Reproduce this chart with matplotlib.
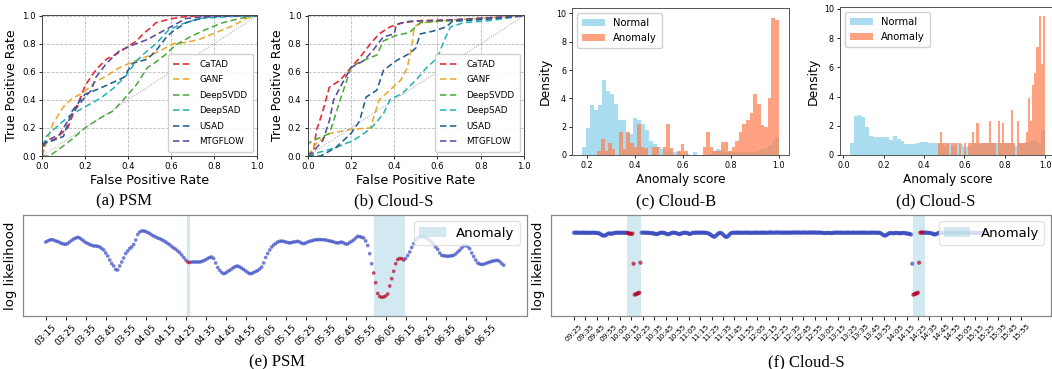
import numpy as np
import matplotlib
matplotlib.use("Agg")
import matplotlib.pyplot as plt

# ---------------- ROC data (PSM) ----------------
psm_catad_fpr = [0, 0.005, 0.02, 0.06, 0.09, 0.12, 0.15, 0.18, 0.2, 0.23, 0.26, 0.3, 0.35, 0.39, 0.44, 0.47, 0.51, 0.53, 0.59, 0.65, 0.73, 1.0]
psm_catad_tpr = [0, 0.05, 0.1, 0.12, 0.16, 0.2, 0.32, 0.42, 0.5, 0.57, 0.63, 0.69, 0.73, 0.77, 0.82, 0.87, 0.92, 0.95, 0.975, 0.99, 1.0, 1.0]
psm_ganf_fpr = [0, 0.02, 0.05, 0.1, 0.14, 0.19, 0.25, 0.3, 0.36, 0.42, 0.49, 0.55, 0.61, 0.67, 0.73, 0.81, 0.89, 0.95, 1.0]
psm_ganf_tpr = [0, 0.09, 0.23, 0.35, 0.41, 0.45, 0.53, 0.57, 0.63, 0.67, 0.71, 0.75, 0.8, 0.81, 0.83, 0.88, 0.93, 0.98, 1.0]
psm_svdd_fpr = [0, 0.035, 0.08, 0.14, 0.2, 0.27, 0.33, 0.39, 0.44, 0.49, 0.53, 0.58, 0.62, 0.69, 0.76, 0.84, 0.92, 1.0]
psm_svdd_tpr = [0, 0.0, 0.05, 0.12, 0.2, 0.27, 0.32, 0.42, 0.51, 0.63, 0.67, 0.73, 0.79, 0.85, 0.9, 0.95, 0.98, 1.0]
psm_sad_fpr = [0, 0, 0.02, 0.07, 0.13, 0.2, 0.27, 0.33, 0.39, 0.44, 0.49, 0.53, 0.59, 0.65, 0.73, 0.89, 1.0]
psm_sad_tpr = [0, 0.06, 0.14, 0.21, 0.29, 0.35, 0.41, 0.48, 0.57, 0.68, 0.75, 0.8, 0.9, 0.94, 0.98, 0.995, 1.0]
psm_usad_fpr = [0, 0, 0.01, 0.05, 0.1, 0.14, 0.2, 0.25, 0.31, 0.38, 0.42, 0.49, 0.53, 0.58, 0.61, 0.67, 0.76, 0.89, 1.0]
psm_usad_tpr = [0, 0.02, 0.09, 0.11, 0.14, 0.32, 0.44, 0.47, 0.51, 0.56, 0.66, 0.69, 0.75, 0.85, 0.89, 0.95, 0.99, 1.0, 1.0]
psm_mtg_fpr = [0, 0, 0.02, 0.08, 0.14, 0.2, 0.23, 0.25, 0.3, 0.36, 0.42, 0.49, 0.55, 0.61, 0.67, 0.76, 1.0]
psm_mtg_tpr = [0, 0.05, 0.11, 0.15, 0.3, 0.42, 0.47, 0.56, 0.66, 0.75, 0.79, 0.83, 0.88, 0.93, 0.98, 0.995, 1.0]

# ---------------- ROC data (Cloud-S) ----------------
cs_catad_fpr = [0, 0.026, 0.04, 0.07, 0.1, 0.15, 0.2, 0.24, 0.29, 0.33, 0.38, 0.44, 0.52, 0.67, 0.83, 1.0]
cs_catad_tpr = [0, 0.02, 0.18, 0.32, 0.49, 0.54, 0.63, 0.7, 0.8, 0.87, 0.92, 0.95, 0.965, 0.97, 0.985, 1.0]
cs_ganf_fpr = [0, 0.04, 0.1, 0.2, 0.29, 0.31, 0.33, 0.38, 0.43, 0.46, 0.48, 0.49, 0.5, 0.53, 0.67, 1.0]
cs_ganf_tpr = [0, 0.09, 0.16, 0.19, 0.2, 0.3, 0.4, 0.47, 0.54, 0.63, 0.77, 0.89, 0.93, 0.95, 0.97, 1.0]
cs_svdd_fpr = [0, 0.003, 0.04, 0.1, 0.12, 0.15, 0.17, 0.2, 0.24, 0.32, 0.35, 0.41, 0.47, 0.52, 0.6, 0.75, 1.0]
cs_svdd_tpr = [0, 0.09, 0.12, 0.16, 0.25, 0.4, 0.49, 0.63, 0.67, 0.72, 0.82, 0.86, 0.88, 0.95, 0.96, 0.97, 1.0]
cs_sad_fpr = [0, 0.04, 0.13, 0.21, 0.26, 0.3, 0.35, 0.38, 0.44, 0.5, 0.55, 0.6, 0.63, 0.66, 0.72, 0.84, 1.0]
cs_sad_tpr = [0, 0.02, 0.06, 0.11, 0.16, 0.21, 0.3, 0.4, 0.45, 0.54, 0.63, 0.7, 0.82, 0.92, 0.95, 0.965, 1.0]
cs_usad_fpr = [0, 0.06, 0.13, 0.2, 0.24, 0.27, 0.32, 0.35, 0.41, 0.47, 0.5, 0.52, 0.58, 0.64, 0.67, 0.83, 1.0]
cs_usad_tpr = [0, 0, 0.06, 0.16, 0.25, 0.42, 0.47, 0.61, 0.68, 0.73, 0.77, 0.87, 0.89, 0.92, 0.96, 0.975, 1.0]
cs_mtg_fpr = [0, 0.03, 0.07, 0.1, 0.12, 0.15, 0.2, 0.26, 0.3, 0.35, 0.4, 0.41, 0.47, 0.67, 1.0]
cs_mtg_tpr = [0, 0.04, 0.11, 0.25, 0.4, 0.49, 0.63, 0.68, 0.75, 0.85, 0.87, 0.94, 0.96, 0.97, 1.0]

methods = ["CaTAD", "GANF", "DeepSVDD", "DeepSAD", "USAD", "MTGFLOW"]

# ---------------- Histogram data ----------------
cb_normal_range = (0.179, 1.003)
cb_normal_density = [0.6, 1.9, 3.5, 3.15, 3.5, 5.3, 4.5, 4.3, 3.6, 2.45,
                     2.45, 1.55, 1.5, 2.6, 2.45, 2.2, 1.75, 1.0, 0.75, 0.55,
                     0.45, 0.2, 0.25, 0.2, 0.2, 0.1, 0.05, 0.0, 0.2, 0.0,
                     0.0, 0.0, 0.1, 0.25, 0.4, 0.35, 0.2, 0.2, 0.2, 0.2,
                     0.2, 0.2, 0.2, 0.2, 0.3, 0.4, 0.5, 0.7, 1.0, 1.3]
cb_anomaly_range = (0.242, 1.0)
cb_anomaly_density = [0.3, 1.1, 0.3, 0.85, 0.45, 0.0, 1.65, 0.45, 1.65, 0.85,
                      0.55, 2.2, 0.55, 0.5, 0.0, 0.55, 0.55, 0.0, 0.55, 2.2,
                      0.5, 0.0, 0.25, 0.8, 0.25, 0.0, 0.0, 0.0, 0.0, 0.55,
                      1.65, 0.55, 0.25, 0.25, 0.95, 0.95, 0.25, 0.55, 1.0, 1.6,
                      2.2, 2.5, 3.0, 4.3, 3.6, 2.1, 2.0, 4.0, 9.7, 9.5]
cs_normal_range = (0.032, 1.0)
cs_normal_density = [0.8, 2.7, 2.75, 2.6, 1.9, 1.3, 1.25, 1.25, 1.25, 1.2,
                     1.05, 1.3, 1.1, 0.95, 0.75, 0.75, 0.75, 0.8, 0.9, 0.9,
                     0.85, 0.8, 0.8, 0.75, 0.6, 0.85, 0.6, 0.85, 0.75, 0.55,
                     0.6, 0.85, 0.75, 0.75, 0.8, 0.8, 0.85, 0.8, 0.8, 0.8,
                     0.8, 0.8, 0.6, 0.8, 0.85, 0.9, 0.95, 1.0, 0.8, 1.7]
cs_anomaly_range = (0.469, 1.0)
cs_anomaly_density = [0.8, 1.6, 0.8, 0.8, 0.8, 0.0, 0.8, 0.8, 0.8, 0.0,
                      0.8, 0.0, 0.8, 0.0, 0.8, 0.8, 1.6, 0.8, 2.2, 0.8,
                      0.8, 0.8, 0.8, 0.8, 2.3, 0.8, 0.8, 0.0, 2.3, 0.8,
                      2.2, 0.8, 0.8, 0.8, 3.1, 0.8, 0.0, 2.3, 0.8, 0.8,
                      0.8, 1.6, 3.9, 2.3, 4.8, 5.6, 7.4, 9.5, 6.2, 9.5]

# ---------------- Time series (PSM) ----------------
psm_start = "03:15"
psm_loglik = [
    74, 75, 76, 76.3, 76, 75, 74.5, 73.5, 72.5, 72,
    71.7, 72.5, 74, 75.7, 77, 78, 78.7, 78, 76.5, 75,
    73.5, 72.5, 71.5, 70.7, 70, 70, 69.7, 69, 67.5, 66,
    63, 60, 56, 52.5, 50, 46.5, 46, 50, 54, 58,
    62.5, 65, 67.5, 69, 71.5, 76, 81.5, 84, 85, 85,
    84.5, 83.5, 82.5, 81, 80, 79, 78, 77.3, 76.3, 75.2,
    74, 72.5, 71.3, 69.5, 68, 66.8, 65, 63.3, 61, 58.5,
    56, 54, 53.5, 54, 54, 54, 54, 54, 54.5, 55.3,
    56.3, 57.5, 58.5, 59, 57.5, 53, 48.5, 45.7, 43.5, 42.3,
    43, 44.5, 45.7, 47, 48.5, 49.5, 50, 49, 47.8, 46.5,
    45, 43.5, 42.3, 42.5, 43.5, 44.5, 45.5, 47, 49, 53,
    58.5, 62.5, 66, 69, 71, 72.5, 74, 74.7, 75, 74.5,
    74, 73.5, 73, 73.5, 74, 74.3, 74.7, 74, 72.8, 72.3,
    73, 74, 74.7, 75.2, 75.8, 76.3, 76.3, 76.5, 76.3, 76.3,
    76, 75.5, 75, 74.7, 74, 73.3, 73, 73.5, 74, 73,
    72, 72, 73.5, 74.7, 76, 78, 79.7, 79.3, 78.7, 78,
    75, 70.5, 62.3, 52.3, 43, 33.3, 22.5, 19.5, 18.7, 19,
    20, 22, 30, 37.3, 44.7, 52.3, 56.5, 57.5, 57.3, 56,
    57.5, 60.5, 64, 68.5, 72.3, 76, 78, 79, 79.2, 79,
    78.5, 77.3, 75.5, 73.5, 71.5, 69, 66.7, 63, 60.7, 60.2,
    60, 59.7, 60, 60.2, 60.7, 62, 64, 65.7, 68, 70,
    70.7, 69.5, 67.3, 63, 59.5, 56, 53, 52, 51.5, 51.8,
    52.5, 53.3, 54, 54.6, 55.1, 55.5, 55.7, 54.5, 52.5, 50.7]
psm_anomalies = [(70.8, 72.2), (164, 179.6)]
psm_ticklabels = ["03:15", "03:25", "03:35", "03:45", "03:55", "04:05", "04:15", "04:25",
                  "04:35", "04:45", "04:55", "05:05", "05:15", "05:25", "05:35", "05:45",
                  "05:55", "06:05", "06:15", "06:25", "06:35", "06:45", "06:55"]

# ---------------- Time series (Cloud-S) ----------------
cloud_start = "09:25"
cloud_loglik = [
    83.3, 83.3, 83.4, 83.4, 83.3, 83.2, 83.3, 83.3, 83.4, 83.3,
    83.2, 83.3, 83.3, 83.2, 83.1, 83.2, 83.3, 83.3, 83.2, 83.1,
    83.0, 83.0, 82.6, 82.0, 81.2, 80.6, 80.3, 80.4, 81.0, 81.8,
    82.5, 82.6, 82.3, 82.2, 82.6, 83.0, 83.2, 83.3, 83.3, 83.2,
    83.3, 83.3, 83.4, 83.3, 83.2, 83.3, 83.3, 83.0, 82.6, 82.3,
    82.2, 82.4, 52.3, 21.3, 21.8, 22.3, 22.8, 23.3, 53.3, 83.3,
    83.4, 83.3, 83.3, 83.2, 83.3, 83.2, 83.0, 82.9, 82.8, 82.7,
    82.5, 82.0, 81.8, 82.0, 82.6, 83.1, 83.3, 83.3, 83.2, 83.0,
    82.5, 82.0, 81.7, 81.9, 82.4, 83.0, 83.3, 83.3, 83.2, 83.0,
    82.6, 82.0, 81.8, 82.1, 82.7, 83.1, 83.3, 83.3, 83.2, 82.9,
    82.4, 82.0, 82.3, 82.9, 83.2, 83.3, 83.3, 83.4, 83.3, 83.3,
    83.4, 83.3, 83.3, 83.4, 83.3, 83.2, 83.0, 82.7, 82.2, 81.5,
    80.6, 79.8, 79.3, 79.5, 80.4, 81.6, 82.6, 83.0, 83.1, 82.6,
    81.5, 80.3, 79.4, 79.1, 79.5, 80.6, 82.0, 82.9, 83.2, 83.3,
    83.3, 83.2, 83.3, 83.4, 83.4, 83.3, 83.3, 83.2, 83.3, 83.3,
    83.4, 83.4, 83.3, 83.3, 83.2, 83.2, 83.3, 83.3, 83.4, 83.4,
    83.3, 83.3, 83.2, 83.3, 83.4, 83.4, 83.3, 83.3, 83.2, 83.3,
    83.4, 83.5, 83.5, 83.4, 83.3, 83.3, 83.4, 83.5, 83.5, 83.4,
    83.3, 83.3, 83.4, 83.4, 83.3, 83.3, 83.4, 83.4, 83.3, 83.3,
    83.4, 83.5, 83.5, 83.4, 83.4, 83.5, 83.5, 83.4, 83.3, 83.4,
    83.5, 83.5, 83.4, 83.3, 83.4, 83.5, 83.5, 83.4, 83.4, 83.5,
    83.5, 83.4, 83.3, 83.3, 83.4, 83.4, 83.3, 83.1, 83.0, 82.9,
    83.0, 83.1, 83.2, 83.0, 82.9, 83.0, 83.2, 83.3, 83.4, 83.4,
    83.3, 83.3, 83.4, 83.4, 83.3, 83.2, 83.3, 83.3, 83.4, 83.4,
    83.3, 83.2, 83.3, 83.4, 83.4, 83.3, 83.3, 83.2, 83.3, 83.4,
    83.4, 83.3, 83.3, 83.4, 83.4, 83.3, 83.2, 83.2, 83.3, 83.3,
    83.4, 83.3, 83.3, 83.3, 83.2, 83.3, 83.3, 83.0, 82.4, 81.6,
    80.8, 80.4, 80.6, 81.3, 82.2, 82.8, 83.0, 82.9, 82.7, 82.8,
    83.0, 83.1, 83.0, 82.8, 82.7, 82.8, 83.0, 83.1, 83.0, 82.8,
    82.6, 82.4, 82.2, 81.9, 81.5, 52.3, 21.3, 21.8, 22.3, 22.8,
    23.3, 53.3, 83.3, 83.5, 83.5, 83.3, 83.3, 83.4, 83.3, 83.1,
    83.0, 82.9, 82.6, 82.1, 81.6, 81.5, 81.9, 82.6, 83.1, 83.3,
    83.3, 83.2, 83.1, 82.8, 82.6, 82.7, 83.0, 83.2, 83.3, 83.2,
    82.9, 82.6, 82.5, 82.7, 83.0, 83.2, 83.3, 83.2, 83.0, 82.8,
    82.7, 82.9, 83.1, 83.3, 83.3, 83.2, 83.1, 83.2, 83.3, 83.3,
    83.3, 83.2, 83.1, 83.0, 82.9, 83.0, 83.2, 83.3, 83.3, 83.2,
    83.1]
cloud_anomalies = [(46.5, 58.5), (295.8, 305.7)]
cloud_ticklabels = ["09:25", "09:35", "09:45", "09:55", "10:05", "10:15", "10:25", "10:35",
                    "10:45", "10:55", "11:05", "11:15", "11:25", "11:35", "11:45", "11:55",
                    "12:05", "12:15", "12:25", "12:35", "12:45", "12:55", "13:05", "13:15",
                    "13:25", "13:35", "13:45", "13:55", "14:05", "14:15", "14:25", "14:35",
                    "14:45", "14:55", "15:05", "15:15", "15:25", "15:35", "15:45", "15:55"]

# ---------------- figure ----------------
W, H = 1052, 369
fig = plt.figure(figsize=(W / 100, H / 100), dpi=100)
plt.rcParams['font.family'] = ['DejaVu Sans']


def rect(l, r, t, b):
    return [l / W, 1 - b / H, (r - l) / W, (b - t) / H]


roc_colors = ["#e6262f", "#e8aa2e", "#4bab3d", "#27b4b4", "#1f5f8c", "#5a4a9e"]


def roc_panel(ax, curves):
    for (fpr, tpr), name, c in zip(curves, methods, roc_colors):
        ax.plot(fpr, tpr, ls=(0, (4, 2.2)), color=c, lw=1.15, label=name)
    ax.plot([0, 1], [0, 1], ls=':', color='#888888', lw=0.6)
    ax.set_xlim(0, 1)
    ax.set_ylim(0, 1.005)
    ax.set_xticks([0, 0.2, 0.4, 0.6, 0.8, 1.0])
    ax.set_yticks([0, 0.2, 0.4, 0.6, 0.8, 1.0])
    ax.grid(True, ls='--', color='#bbbbbb', lw=0.6)
    ax.tick_params(labelsize=6.2, length=2.5, width=0.6, pad=2)
    ax.set_xlabel("False Positive Rate", fontsize=9.2, labelpad=2)
    ax.set_ylabel("True Positive Rate", fontsize=9.0, labelpad=3)
    for s in ax.spines.values():
        s.set_color('#444444')
        s.set_linewidth(0.7)
    ax.legend(loc='lower right', fontsize=6.3, labelspacing=0.75, handlelength=2.2,
              borderpad=0.6, framealpha=0.9, edgecolor='#cccccc')


ax_a = fig.add_axes(rect(42, 257, 15, 156))
roc_panel(ax_a, [(psm_catad_fpr, psm_catad_tpr), (psm_ganf_fpr, psm_ganf_tpr),
                 (psm_svdd_fpr, psm_svdd_tpr), (psm_sad_fpr, psm_sad_tpr),
                 (psm_usad_fpr, psm_usad_tpr), (psm_mtg_fpr, psm_mtg_tpr)])
ax_b = fig.add_axes(rect(307.7, 524, 15, 156))
roc_panel(ax_b, [(cs_catad_fpr, cs_catad_tpr), (cs_ganf_fpr, cs_ganf_tpr),
                 (cs_svdd_fpr, cs_svdd_tpr), (cs_sad_fpr, cs_sad_tpr),
                 (cs_usad_fpr, cs_usad_tpr), (cs_mtg_fpr, cs_mtg_tpr)])


def hist_panel(ax, nrange, ndens, arange, adens, ytop):
    ne = np.linspace(nrange[0], nrange[1], len(ndens) + 1)
    ae = np.linspace(arange[0], arange[1], len(adens) + 1)
    ax.bar(ne[:-1], ndens, width=np.diff(ne), align='edge', color='skyblue',
           alpha=0.7, linewidth=0, label='Normal')
    ax.bar(ae[:-1], adens, width=np.diff(ae), align='edge', color='coral',
           alpha=0.72, linewidth=0, label='Anomaly')
    ax.set_ylim(0, ytop)
    ax.set_yticks([0, 2, 4, 6, 8, 10])
    ax.tick_params(labelsize=5.8, length=2.5, width=0.6, pad=2)
    ax.set_xlabel("Anomaly score", fontsize=8.7, labelpad=2)
    ax.set_ylabel("Density", fontsize=8.9, labelpad=3)
    for s in ax.spines.values():
        s.set_color('#555555')
        s.set_linewidth(0.7)
    ax.legend(loc='upper left', fontsize=7.2, handlelength=2.3, borderpad=0.5,
              framealpha=0.9, edgecolor='#cccccc')


ax_c = fig.add_axes(rect(572.3, 789.3, 7.7, 155))
hist_panel(ax_c, cb_normal_range, cb_normal_density, cb_anomaly_range, cb_anomaly_density, 10.4)
ax_c.set_xticks([0.2, 0.4, 0.6, 0.8, 1.0])
ax_d = fig.add_axes(rect(840, 1054.7, 7.3, 155))
hist_panel(ax_d, cs_normal_range, cs_normal_density, cs_anomaly_range, cs_anomaly_density, 10.1)
ax_d.set_xticks([0.0, 0.2, 0.4, 0.6, 0.8, 1.0])


def to_min(s):
    h, m = s.split(":")
    return int(h) * 60 + int(m)


cmap = plt.get_cmap('coolwarm')


def ts_panel(ax, values, start, anomalies, ticklabels, tfs, msize, xlim=None):
    t = np.arange(len(values))
    vals = np.asarray(values, dtype=float)
    inside = np.zeros(len(t), dtype=bool)
    for i, (a, b) in enumerate(anomalies):
        ax.axvspan(a, b, color='lightblue', alpha=0.55, lw=0,
                   label='Anomaly' if i == 0 else None)
        inside |= (t >= a) & (t <= b)
    cols = np.where(inside, 1.0, 0.0)
    ax.scatter(t, vals, c=cols, cmap=cmap, vmin=0, vmax=1, s=msize, alpha=0.7,
               linewidths=0, zorder=3)
    pos = [to_min(l) - to_min(start) for l in ticklabels]
    ax.set_xticks(pos)
    ax.set_xticklabels(ticklabels, rotation=45, fontsize=tfs)
    if xlim is not None:
        ax.set_xlim(*xlim)
    ax.set_ylim(0, 101.3)
    ax.set_yticks([])
    ax.set_ylabel("log likelihood", fontsize=9.5, labelpad=4)
    ax.tick_params(axis='x', length=3, width=0.6, pad=2)
    for s in ax.spines.values():
        s.set_color('#888888')
        s.set_linewidth(0.9)
    leg = ax.legend(loc='upper right', fontsize=9.5, framealpha=0.8, edgecolor='#dddddd')
    leg.set_zorder(5)


ax_e = fig.add_axes(rect(22.8, 526.6, 214.7, 316))
ts_panel(ax_e, psm_loglik, psm_start, psm_anomalies, psm_ticklabels, 6.5, 7)
ax_f = fig.add_axes(rect(551, 1051, 214.7, 316))
ts_panel(ax_f, cloud_loglik, cloud_start, cloud_anomalies, cloud_ticklabels, 5.4, 9,
         xlim=(-20, 416))

captions = [("(a) PSM", 124, 201), ("(b) Cloud-S", 394, 201), ("(c) Cloud-B", 676, 201),
            ("(d) Cloud-S", 936, 201), ("(e) PSM", 277, 362), ("(f) Cloud-S", 806, 362)]
for txt, x, y in captions:
    fig.text(x / W, 1 - y / H, txt, ha='center', va='center', fontsize=12,
             family='Liberation Serif')

fig.savefig("out.png", dpi=100)
